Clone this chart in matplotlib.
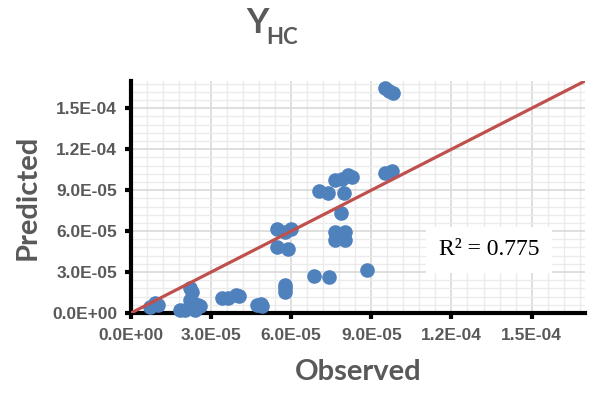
import matplotlib.pyplot as plt
import numpy as np
from matplotlib.ticker import MultipleLocator

# observed / predicted values
observed = [7.0e-6, 9.0e-6, 1.0e-5,
            1.83e-5, 2.02e-5, 2.39e-5, 2.21e-5, 2.28e-5, 2.21e-5, 2.32e-5, 2.5e-5, 2.58e-5,
            3.40e-5, 3.65e-5, 3.95e-5, 4.05e-5,
            4.70e-5, 4.85e-5, 4.90e-5,
            5.46e-5, 5.76e-5, 5.99e-5, 5.46e-5, 5.87e-5, 5.76e-5, 5.76e-5, 5.76e-5,
            6.85e-5, 7.41e-5, 8.83e-5,
            7.03e-5, 7.37e-5, 7.97e-5, 7.86e-5,
            7.63e-5, 8.00e-5, 7.63e-5, 8.00e-5, 7.80e-5,
            7.63e-5, 7.90e-5, 8.12e-5, 8.27e-5,
            9.50e-5, 9.76e-5,
            9.50e-5, 9.65e-5, 9.80e-5]
predicted = [4.4e-6, 7.3e-6, 6.0e-6,
             2.2e-6, 2.2e-6, 2.2e-6, 1.83e-5, 1.54e-5, 9.5e-6, 7.3e-6, 5.9e-6, 5.1e-6,
             1.1e-5, 1.1e-5, 1.3e-5, 1.25e-5,
             5.5e-6, 6.5e-6, 5.0e-6,
             6.15e-5, 5.93e-5, 6.15e-5, 4.83e-5, 4.68e-5, 2.05e-5, 1.54e-5, 1.8e-5,
             2.71e-5, 2.63e-5, 3.15e-5,
             8.93e-5, 8.78e-5, 8.78e-5, 7.32e-5,
             5.93e-5, 5.93e-5, 5.34e-5, 5.34e-5, 5.6e-5,
             9.73e-5, 9.85e-5, 1.01e-4, 9.95e-5,
             1.024e-4, 1.04e-4,
             1.646e-4, 1.63e-4, 1.61e-4]
line_x = [0, 1.7e-4]
line_y = [0, 1.7e-4]
ticks = [0, 3e-5, 6e-5, 9e-5, 1.2e-4, 1.5e-4]
tick_labels = ['%.1E' % t for t in ticks]
r2_text = 'R² = 0.775'

gray = '#595959'
plt.rcParams['font.family'] = ['Lato', 'DejaVu Sans']

fig = plt.figure(figsize=(5.93, 3.94), dpi=100)
ax = fig.add_axes([131/593, 1 - 313/394, (585-131)/593, (313-81)/394])

ax.set_xlim(0, 1.7e-4)
ax.set_ylim(0, 1.7e-4)
ax.xaxis.set_minor_locator(MultipleLocator(6e-6))
ax.yaxis.set_minor_locator(MultipleLocator(6e-6))
ax.grid(which='major', color='#d9d9d9', lw=1.2, zorder=0)
ax.grid(which='minor', color='#ebebeb', lw=1.0, zorder=0)
ax.set_axisbelow(True)

tick_font = dict(fontweight='bold', fontsize=12.5, color=gray, family='Liberation Sans')
ax.set_xticks(ticks, labels=tick_labels, **tick_font)
ax.set_yticks(ticks, labels=tick_labels, **tick_font)

for s in ['top', 'right']:
    ax.spines[s].set_visible(False)
for s in ['left', 'bottom']:
    ax.spines[s].set_linewidth(3)
    ax.spines[s].set_color('black')

ax.tick_params(which='major', direction='out', length=4, width=3, color='black')
ax.tick_params(axis='y', pad=6)
ax.tick_params(axis='x', pad=7)
ax.tick_params(which='minor', length=0)

ax.scatter(observed, predicted, s=90, color='#4f81bd', zorder=3, clip_on=False)
ax.plot(line_x, line_y, color='#c0504d', lw=2.3, zorder=4)

ax.text(0.789, 0.272, r2_text, transform=ax.transAxes, ha='center', va='center',
        fontsize=17, family='Liberation Serif', color='black',
        bbox=dict(facecolor='white', edgecolor='none', pad=9), zorder=5)

ax.set_xlabel('Observed', fontsize=21, fontweight='bold', color=gray, labelpad=11)
ax.set_ylabel('Predicted', fontsize=21, fontweight='bold', color=gray, labelpad=8)

fig.text(257/593, 1 - 23/394, 'Y', fontsize=25, fontweight='bold', color=gray,
         ha='center', va='center')
fig.text(282/593, 1 - 38/394, 'HC', fontsize=16, fontweight='bold', color=gray,
         ha='center', va='center')

fig.savefig('out.png', dpi=100)
